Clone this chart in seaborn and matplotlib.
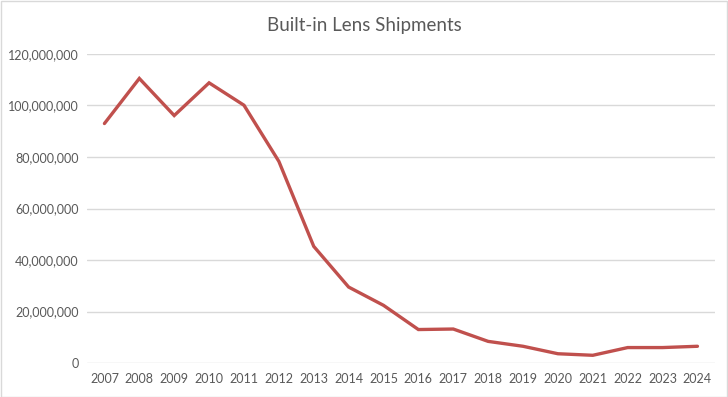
import matplotlib
matplotlib.use("Agg")
import matplotlib.pyplot as plt
import seaborn as sns
import pandas as pd
from matplotlib.ticker import FuncFormatter
from matplotlib.patches import Rectangle

years = ["2007", "2008", "2009", "2010", "2011", "2012", "2013", "2014", "2015",
         "2016", "2017", "2018", "2019", "2020", "2021", "2022", "2023", "2024"]
shipments = [93.0e6, 110.5e6, 96.1e6, 108.8e6, 100.1e6, 78.3e6, 45.3e6, 29.5e6, 22.4e6,
             13.0e6, 13.2e6, 8.4e6, 6.5e6, 3.6e6, 3.0e6, 6.0e6, 6.0e6, 6.5e6]
yticks = [0, 20e6, 40e6, 60e6, 80e6, 100e6, 120e6]
title = "Built-in Lens Shipments"

df = pd.DataFrame({"year": years, "pos": range(len(years)), "value": shipments})

sns.set_theme(style="white")
plt.rcParams['font.family'] = ['Lato', 'DejaVu Sans']

fig = plt.figure(figsize=(7.28, 3.97), dpi=100)
ax = fig.add_axes([0.1195, 0.0856, 0.8625, 0.7784])

sns.lineplot(data=df, x="pos", y="value", ax=ax, color="#C0504D", linewidth=2.4,
             solid_joinstyle="miter", legend=False)

ax.set_xlim(-0.5, len(years) - 0.5)
ax.set_ylim(0, 120e6)
ax.set_yticks(yticks)
ax.yaxis.set_major_formatter(FuncFormatter(lambda v, p: f"{int(v):,}"))
ax.set_xticks(range(len(years)))
ax.set_xticklabels(years)
ax.grid(axis="y", color="#D9D9D9", linewidth=1.0)
ax.set_axisbelow(True)
for s in ax.spines.values():
    s.set_visible(False)
ax.tick_params(axis="both", length=0, labelsize=9, colors="#595959", pad=6)
ax.tick_params(axis="x", pad=7)
ax.set_xlabel("")
ax.set_ylabel("")

fig.text(0.5, 0.935, title, ha="center", va="center", fontsize=13.5, color="#595959")

fig.patches.append(Rectangle((0.001, 0.001), 0.997, 0.996, transform=fig.transFigure,
                             fill=False, edgecolor="#D9D9D9", linewidth=1.0))

fig.savefig("out.png", dpi=100, facecolor="white")
